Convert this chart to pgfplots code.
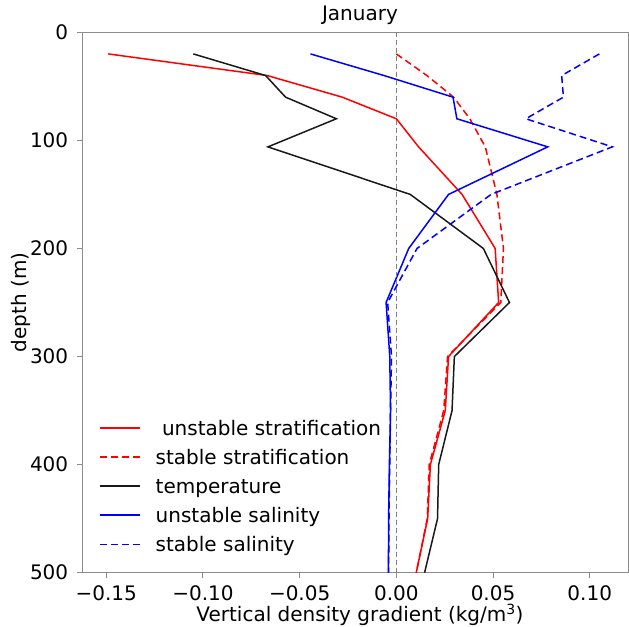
\documentclass[border=0pt]{standalone}
\usepackage{fontspec}
\setmainfont{DejaVu Sans}
\usepackage{pgfplots}
\pgfplotsset{compat=1.18}
\newcommand{\fsz}{\fontsize{20bp}{24bp}\selectfont}
\begin{document}
\begin{tikzpicture}
\begin{axis}[
  scale only axis, width=545.5bp, height=540.4bp,
  xmin=-0.1623, xmax=0.1198, ymin=0, ymax=500, y dir=reverse,
  axis line style={draw=gray!90, line width=1bp},
  tick style={draw=gray!90, line width=1bp},
  tick align=outside, major tick length=5bp,
  xtick pos=lower, ytick pos=lower,
  xtick={-0.15,-0.10,-0.05,0,0.05,0.10},
  xticklabels={\mbox{−0.15},\mbox{−0.10},\mbox{−0.05},\mbox{0.00},\mbox{0.05},\mbox{0.10}},
  ytick={0,100,200,300,400,500},
  /pgf/number format/assume math mode=true,
  ticklabel style={font=\fsz},
  xticklabel style={yshift=-4.8bp},
  yticklabel style={xshift=-5.8bp},
  title={January},
  title style={font=\fsz, at={(axis description cs:0.5087,1.0105)}, anchor=base},
  xlabel={Vertical density gradient (kg/m\textsuperscript{3})},
  xlabel style={font=\fsz, at={(axis description cs:0.5087,-0.0905)}, anchor=base},
  ylabel={depth (m)},
  ylabel style={font=\fsz, at={(axis description cs:-0.1023,0.5)}, anchor=base, rotate=0},
  clip=false,
]
\addplot[draw=red, line width=1.5bp] coordinates {
(-0.149,20) (-0.0668,40) (-0.028,60) (0.000,80) (0.0115,106) (0.034,150) (0.0511,200) (0.0529,250) (0.027,300) (0.0253,350) (0.0176,400) (0.0162,450) (0.0103,500)};

\addplot[draw=red, line width=1.5bp, dash pattern=on 7bp off 4bp] coordinates {
(0.000,20) (0.0158,40) (0.0296,60) (0.038,80) (0.046,106) (0.052,150) (0.0554,200) (0.054,250) (0.0265,300) (0.0245,350) (0.017,400) (0.016,450) (0.0103,500)};

\addplot[draw=black!90, line width=1.5bp] coordinates {
(-0.105,20) (-0.0676,40) (-0.0573,60) (-0.031,80) (-0.0664,106) (0.0072,150) (0.045,200) (0.0585,250) (0.030,300) (0.0288,350) (0.0219,400) (0.0213,450) (0.0146,500)};

\addplot[draw=blue, line width=1.5bp] coordinates {
(-0.0444,20) (-0.0064,40) (0.0293,60) (0.0313,80) (0.0783,106) (0.027,150) (0.0064,200) (-0.0053,250) (-0.0034,300) (-0.003,350) (-0.0036,400) (-0.004,450) (-0.0041,500)};

\addplot[draw=blue, line width=1.5bp, dash pattern=on 7bp off 4bp] coordinates {
(0.105,20) (0.0855,40) (0.0864,60) (0.067,80) (0.1117,106) (0.049,150) (0.0107,200) (-0.0045,250) (-0.0025,300) (-0.003,350) (-0.0034,400) (-0.0038,450) (-0.004,500)};

\addplot[draw=gray, line width=1.2bp, dash pattern=on 5bp off 3bp] coordinates {(0,0) (0,500)};

% legend
\draw[draw=red, line width=1.5bp] (axis description cs:0.0321,0.2680) -- (axis description cs:0.1054,0.2680);
\draw[draw=red, line width=1.5bp, dash pattern=on 7bp off 4bp] (axis description cs:0.0321,0.2141) -- (axis description cs:0.1054,0.2141);
\draw[draw=black!90, line width=1.5bp] (axis description cs:0.0321,0.1601) -- (axis description cs:0.1054,0.1601);
\draw[draw=blue, line width=1.5bp] (axis description cs:0.0321,0.1066) -- (axis description cs:0.1054,0.1066);
\draw[draw=blue, line width=1.5bp, dash pattern=on 7bp off 4bp] (axis description cs:0.0321,0.0526) -- (axis description cs:0.1054,0.0526);
\node[anchor=base west, inner sep=0pt, font=\fsz] at ([yshift=-7.6bp]axis description cs:0.1338,0.2680) {\ unstable stratification};
\node[anchor=base west, inner sep=0pt, font=\fsz] at ([yshift=-7.6bp]axis description cs:0.1338,0.2141) {stable stratification};
\node[anchor=base west, inner sep=0pt, font=\fsz] at ([yshift=-7.6bp]axis description cs:0.1338,0.1601) {temperature};
\node[anchor=base west, inner sep=0pt, font=\fsz] at ([yshift=-7.6bp]axis description cs:0.1338,0.1066) {unstable salinity};
\node[anchor=base west, inner sep=0pt, font=\fsz] at ([yshift=-7.6bp]axis description cs:0.1338,0.0526) {stable salinity};

\coordinate (sw) at (axis description cs:0,0);
\coordinate (ne) at (axis description cs:1,1);
\end{axis}
\pgfresetboundingbox
\path ([shift={(-82.5bp,-54.3bp)}]sw) rectangle ([shift={(1bp,32.3bp)}]ne);
\end{tikzpicture}
\end{document}
